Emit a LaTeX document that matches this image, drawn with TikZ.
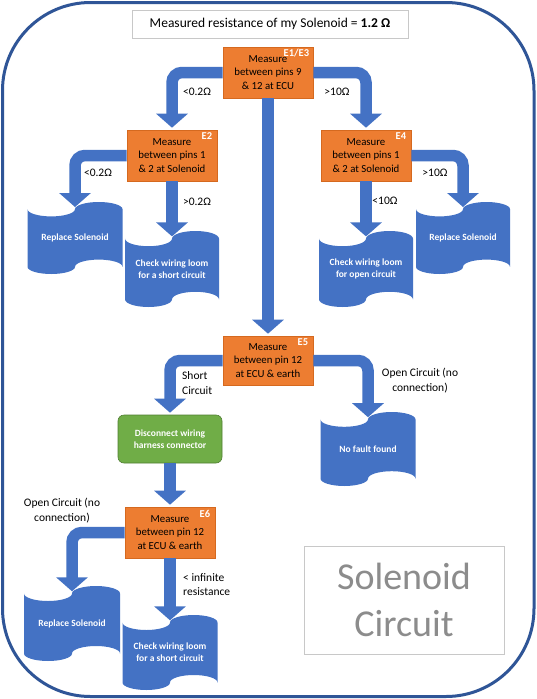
\documentclass[tikz,border=0pt]{standalone}
\usepackage{fontspec}
\setmainfont{Carlito}
\usetikzlibrary{arrows.meta,calc}
\definecolor{obox}{HTML}{ED7D31}
\definecolor{oline}{HTML}{D5691F}
\definecolor{bl}{HTML}{4472C4}
\definecolor{grfill}{HTML}{70AD47}
\definecolor{grline}{HTML}{507E32}
\definecolor{frameblue}{HTML}{2F5597}
\definecolor{gtext}{HTML}{8C8C8C}
\definecolor{gline}{HTML}{C8C8C8}
% tape shape: name, cx, cy, w, h (incl. waves), text
\newcommand\tapeshape[6]{%
  \fill[bl] ({#2-#4/2},{#3-0.4*#5})
     arc[start angle=180,end angle=360,x radius={#4/4*1pt},y radius={#5/10*1pt}]
     arc[start angle=180,end angle=0,x radius={#4/4*1pt},y radius={#5/10*1pt}]
     -- ({#2+#4/2},{#3+0.4*#5})
     arc[start angle=0,end angle=180,x radius={#4/4*1pt},y radius={#5/10*1pt}]
     arc[start angle=0,end angle=-180,x radius={#4/4*1pt},y radius={#5/10*1pt}]
     -- cycle;
  \node[tapetext, minimum width=#4 pt, minimum height={0.8*#5 pt}] (#1) at (#2,#3) {#6};
}
\begin{document}
\begin{tikzpicture}[x=1pt,y=-1pt,
  measure/.style={rectangle, fill=obox, draw=oline, line width=0.6pt,
    minimum width=90pt, minimum height=51pt, inner sep=0pt, align=center,
    font=\fontsize{10.8}{13.5}\selectfont, text=black},
  elabel/.style={anchor=north east, text=white, inner sep=0pt,
    font=\fontsize{10.5}{12}\selectfont\bfseries},
  flow/.style={draw=bl, line width=11.5pt, rounded corners=10pt,
    -{Triangle[width=31pt,length=14pt]}, shorten >=2pt},
  lab/.style={font=\fontsize{11.5}{14.5}\selectfont, align=center, inner sep=0pt},
  tapetext/.style={rectangle, inner sep=0pt, text=white, align=center,
    font=\fontsize{9.5}{12}\selectfont\bfseries},
  greenbox/.style={rectangle, rounded corners=6pt, fill=grfill, draw=grline,
    line width=0.6pt, minimum width=104pt, minimum height=48pt, inner sep=0pt,
    align=center, text=white, font=\fontsize{9.5}{12}\selectfont\bfseries}
]
\useasboundingbox (0,0) rectangle (537,699);
\fill[white] (0,0) rectangle (537,699);
\draw[frameblue, line width=3pt, rounded corners=88pt] (2.5,2.5) rectangle (534,696.5);

% title
\node[draw=gline, line width=0.8pt, minimum width=276pt, minimum height=28pt,
  inner sep=0pt, font=\fontsize{13.5}{16}\selectfont] (title) at (270,24)
  {Measured resistance of my Solenoid = \textbf{1.2 Ω}};

% measurement boxes
\node[measure] (e1) at (268,72.5) {Measure\\between pins 9\\\& 12 at ECU};
\node[elabel] (e1l) at ($(e1.north east)+(-4pt,-2pt)$) {E1/E3};
\node[measure] (e2) at (172,155.5) {Measure\\between pins 1\\\& 2 at Solenoid};
\node[elabel] (e2l) at ($(e2.north east)+(-5pt,-3pt)$) {E2};
\node[measure] (e4) at (366,155.5) {Measure\\between pins 1\\\& 2 at Solenoid};
\node[elabel] (e4l) at ($(e4.north east)+(-5pt,-3pt)$) {E4};
\node[measure, minimum height=49pt] (e5) at (268,360.5) {Measure\\between pin 12\\at ECU \& earth};
\node[elabel] (e5l) at ($(e5.north east)+(-5pt,-3pt)$) {E5};
\node[greenbox] (gr) at (170,439) {Disconnect wiring\\harness connector};
\node[measure] (e6) at (170,532.5) {Measure\\between pin 12\\at ECU \& earth};
\node[elabel] (e6l) at ($(e6.north east)+(-5pt,-3pt)$) {E6};

% result shapes
\tapeshape{rsA}{75}{238}{95}{72}{Replace Solenoid}
\tapeshape{cwA}{172}{269}{94}{76}{Check wiring loom\\for a short circuit}
\tapeshape{cwB}{366}{269}{94}{76}{Check wiring loom\\for open circuit}
\tapeshape{rsB}{463}{238}{94}{72}{Replace Solenoid}
\tapeshape{nf}{368}{449}{95}{74}{No fault found}
\tapeshape{rsC}{72}{623.5}{96}{75}{Replace Solenoid}
\tapeshape{cwC}{170}{652.5}{95}{75}{Check wiring loom\\for a short circuit}

% connectors
\draw[flow] (e1.west) -| (e2.north);
\draw[flow] (e1.east) -| (e4.north);
\draw[flow] (e1.south) -- (e5.north);
\draw[flow] (e2.west) -| (rsA.north);
\draw[flow] (e2.south) -- (cwA.north);
\draw[flow] (e4.south) -- (cwB.north);
\draw[flow] (e4.east) -| (rsB.north);
\draw[flow] (e5.west) -| (gr.north);
\draw[flow] (e5.east) -| (nf.north);
\draw[flow] (gr.south) -- (e6.north);
\draw[flow] (e6.west) -| (rsC.north);
\draw[flow] (e6.south) -- (cwC.north);

% labels
\node[lab] (l1) at (197,92) {<0.2Ω};
\node[lab] (l2) at (337,92) {>10Ω};
\node[lab] (l3) at (98,173) {<0.2Ω};
\node[lab] (l4) at (435,173) {>10Ω};
\node[lab] (l5) at (197,201.5) {>0.2Ω};
\node[lab] (l6) at (385,201) {<10Ω};
\node[lab, anchor=west, align=left] (l7) at (182,383) {Short\\Circuit};
\node[lab] (l8) at (420,380.5) {Open Circuit (no\\connection)};
\node[lab] (l9) at (62,510.5) {Open Circuit (no\\connection)};
\node[lab, anchor=west, align=left] (l10) at (183,584.5) {< infinite\\resistance};

% name box
\node[draw=gline, line width=0.8pt, minimum width=200pt, minimum height=108pt,
  inner sep=0pt, align=center, text=gtext, font=\fontsize{38}{47}\selectfont]
  (sc) at (404,600) {Solenoid\\Circuit};
\end{tikzpicture}
\end{document}
